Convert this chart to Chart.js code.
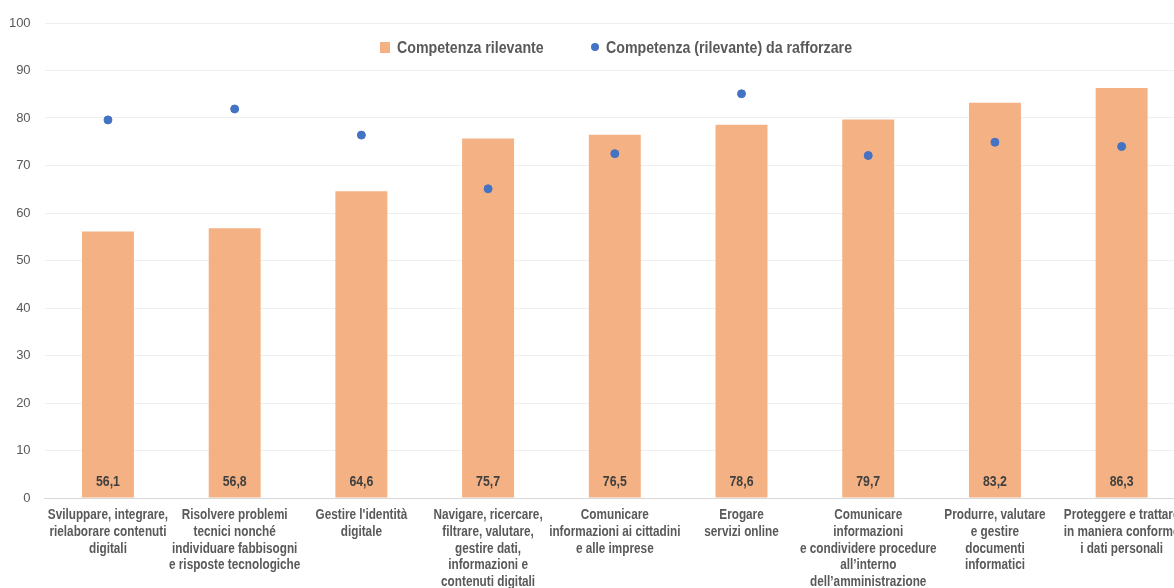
<!DOCTYPE html>
<html>
<head>
<meta charset="utf-8">
<script src="https://cdn.jsdelivr.net/npm/chart.js@4"></script>
<style>
  html, body { margin: 0; padding: 0; background: #fff; overflow: hidden; }
  #wrap { position: relative; width: 1190px; height: 588px; }
  #legend {
    position: absolute; left: 380px; top: 37px; height: 20px;
    font: bold 16.5px 'Liberation Sans', Arial, sans-serif;
    color: #595959; white-space: nowrap;
  }
  #legend span { position: absolute; top: 0; line-height: 20px; transform: scaleX(0.86); transform-origin: 0 50%; }
  .sq { position: absolute; left: 0; top: 5px; width: 10px; height: 11px; background: #F4B183; }
  .dot { position: absolute; left: 211px; top: 6px; width: 8px; height: 8px; border-radius: 50%; background: #4472C4; }
</style>
</head>
<body>
<div id="wrap">
  <canvas id="chart-canvas" width="1190" height="588"></canvas>
  <div id="legend">
    <div class="sq"></div><span style="left:17px">Competenza rilevante</span>
    <div class="dot"></div><span style="left:226px">Competenza (rilevante) da rafforzare</span>
  </div>
</div>
<script>
// dati del grafico
var categories = [
  ["Sviluppare, integrare,", "rielaborare contenuti", "digitali"],
  ["Risolvere problemi", "tecnici nonché", "individuare fabbisogni", "e risposte tecnologiche"],
  ["Gestire l'identità", "digitale"],
  ["Navigare, ricercare,", "filtrare, valutare,", "gestire dati,", "informazioni e", "contenuti digitali"],
  ["Comunicare", "informazioni ai cittadini", "e alle imprese"],
  ["Erogare", "servizi online"],
  ["Comunicare", "informazioni", "e condividere procedure", "all’interno", "dell’amministrazione"],
  ["Produrre, valutare", "e gestire", "documenti", "informatici"],
  ["Proteggere e trattare", "in maniera conforme", "i dati personali"]
];
var rilevante = [56.1, 56.8, 64.6, 75.7, 76.5, 78.6, 79.7, 83.2, 86.3];
var daRafforzare = [79.6, 81.9, 76.4, 65.1, 72.5, 85.1, 72.1, 74.9, 74.0];
var yTicks = [0, 10, 20, 30, 40, 50, 60, 70, 80, 90, 100];

var fontFam = "'Liberation Sans', Arial, sans-serif";

// testo "stretto" (il font narrow non c'è)
function narrowText(ctx, text, x, y, sx){
  ctx.save();
  ctx.translate(x, y);
  ctx.scale(sx, 1);
  ctx.fillText(text, 0, 0);
  ctx.restore();
}

// etichette dentro le barre + etichette asse x
var customLabels = {
  id: "customLabels",
  afterDatasetsDraw: function(chart){
    var meta = chart.getDatasetMeta(0);
    var ctx = chart.ctx;
    var xs = chart.scales.x;
    var y0 = chart.scales.y.getPixelForValue(0);
    ctx.save();
    ctx.textAlign = "center";
    ctx.textBaseline = "middle";

    ctx.font = "bold 14px " + fontFam;
    ctx.fillStyle = "#404040";
    categories.forEach(function(c, i){
      narrowText(ctx, rilevante[i].toFixed(1).replace(".", ","), xs.getPixelForValue(i), y0 - 15.5, 0.88);
    });

    ctx.font = "bold 14px " + fontFam;
    ctx.fillStyle = "#595959";
    categories.forEach(function(lines, i){
      var x = xs.getPixelForValue(i);
      lines.forEach(function(t, k){
        narrowText(ctx, t, x, y0 + 17.5 + k * 16.6, 0.84);
      });
    });
    ctx.restore();
  }
};

var ctx = document.getElementById("chart-canvas");

new Chart(ctx, {
  type: "bar",
  data: {
    labels: categories,
    datasets: [
      {
        type: "scatter",
        label: "Competenza (rilevante) da rafforzare",
        data: daRafforzare,
        backgroundColor: "#4472C4",
        borderColor: "#4472C4",
        pointRadius: 4,
        showLine: false,
        order: 0
      },
      {
        type: "bar",
        label: "Competenza rilevante",
        data: rilevante,
        backgroundColor: "#F4B183",
        barPercentage: 0.41,
        categoryPercentage: 1,
        order: 1
      }
    ]
  },
  options: {
    responsive: false,
    animation: false,
    layout: { padding: { top: 23, right: 4, left: 0, bottom: 0 } },
    plugins: {
      legend: { display: false },
      tooltip: { enabled: false }
    },
    scales: {
      x: {
        type: "category",
        offset: true,
        grid: { display: false, drawTicks: false },
        border: { display: true, color: "#d9d9d9", width: 1 },
        ticks: { display: false },
        afterFit: function(scale){ scale.height = 90; }
      },
      y: {
        min: 0, max: 100,
        afterBuildTicks: function(scale){
          scale.ticks = yTicks.map(function(v){ return { value: v }; });
        },
        grid: { color: "#efefef", drawTicks: false },
        border: { display: false },
        ticks: {
          padding: 14, color: "#595959",
          font: { family: fontFam, size: 13 }
        },
        afterFit: function(scale){ scale.width = 44.6; }
      }
    }
  },
  plugins: [customLabels]
});
</script>
</body>
</html>
